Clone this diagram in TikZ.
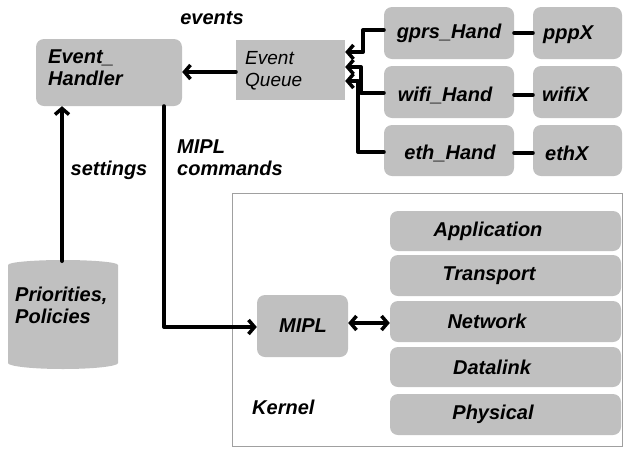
\documentclass[tikz,border=0pt]{standalone}
\usepackage{fontspec}
\setmainfont{Liberation Sans}
\usetikzlibrary{arrows.meta}

\definecolor{boxgray}{RGB}{192,192,192}
\definecolor{framegray}{RGB}{160,160,160}

\tikzset{
  lbl/.style={font=\fontsize{20}{22}\selectfont\bfseries\itshape, inner sep=0pt},
  rbox/.style={draw=none, fill=boxgray, rounded corners=8pt, inner sep=0pt},
  sbox/.style={draw=none, fill=boxgray, inner sep=0pt},
  wire/.style={line width=4pt, line cap=round, line join=round},
  barb/.tip={Straight Barb[length=6pt,width=14pt,line width=3.5pt]},
  arr/.style={wire, -barb},
  darr/.style={wire, barb-barb},
}

\begin{document}
\begin{tikzpicture}[x=1pt,y=-1pt]
  \useasboundingbox (0,0) rectangle (624,448);

  % kernel frame
  \draw[framegray, line width=1pt] (232,193) rectangle (622,446);
  \node[lbl, anchor=west] (kernel) at (252,407) {Kernel};

  % event handler and queue
  \node[rbox, minimum width=146pt, minimum height=67pt] (eh) at (109,72.5) {};
  \node[lbl, anchor=north west, align=left] at (48,50) {Event\_\\Handler};
  \node[sbox, minimum width=109pt, minimum height=60pt] (eq) at (290.5,70) {};
  \node[inner sep=0pt, anchor=north west, align=left,
        font=\fontsize{19}{22}\selectfont\itshape] at (245,51) {Event\\Queue};
  \node[lbl] (events) at (212,18) {events};

  % interface handlers
  \node[rbox, minimum width=130pt, minimum height=52pt] (gprs) at (449,33) {};
  \node[rbox, minimum width=130pt, minimum height=52pt] (wifi) at (449,92) {};
  \node[rbox, minimum width=130pt, minimum height=51pt] (eth)  at (449,150.5) {};
  \node[lbl] at (449,33) {gprs\_Hand};
  \node[lbl] at (445,95) {wifi\_Hand};
  \node[lbl] at (450,153) {eth\_Hand};
  \node[rbox, minimum width=89pt, minimum height=52pt] (ppp)   at (577.5,33) {};
  \node[lbl, anchor=west] at (543,35) {pppX};
  \node[rbox, minimum width=89pt, minimum height=52pt] (wifix) at (577.5,92) {};
  \node[lbl, anchor=west] at (542,94) {wifiX};
  \node[rbox, minimum width=89pt, minimum height=51pt] (ethx)  at (577.5,150.5) {};
  \node[lbl, anchor=west] at (545,153) {ethX};

  \draw[wire] (gprs.east |- 0,33) -- (ppp.west |- 0,33);
  \draw[wire] (wifi.east |- 0,95) -- (wifix.west |- 0,95);
  \draw[wire] (eth.east |- 0,153) -- (ethx.west |- 0,153);

  % handlers feed the queue
  \draw[arr] (gprs.west |- 0,30) -| (363,52) -- (eq.east |- 0,52);
  \draw[arr] (wifi.west |- 0,93) -| (361,67) -- (eq.east |- 0,67);
  \draw[arr] (eth.west |- 0,152) -| (358,81) -- (eq.east |- 0,81);

  % queue to handler
  \draw[arr] (eq.west |- 0,72) -- (eh.east |- 0,72);

  % policy store (cylinder)
  \fill[boxgray] (8,265) arc[start angle=180, end angle=360, x radius=55, y radius=5]
    -- (118,363) arc[start angle=0, end angle=180, x radius=55, y radius=6] -- cycle;
  \coordinate (poltop) at (62,261);
  \node[lbl, anchor=north west, align=left] (pol) at (15,287) {Priorities,\\Policies};
  \draw[arr] (poltop) -- (eh.south -| poltop);
  \node[lbl] (settings) at (109,170) {settings};

  % MIPL commands
  \node[rbox, minimum width=91pt, minimum height=62pt] (mipl) at (302.5,326) {};
  \node[lbl] at (303,326) {MIPL};
  \coordinate (bend) at (164,327);
  \draw[arr] (eh.south -| bend) -- (bend) -- (mipl.west |- bend);
  \node[lbl, anchor=north west, align=left] at (177,140) {MIPL\\commands};

  % protocol stack
  \node[rbox, minimum width=231pt, minimum height=40pt] (app) at (505.5,231) {};
  \node[rbox, minimum width=231pt, minimum height=41pt] (tra) at (505.5,275.5) {};
  \node[rbox, minimum width=231pt, minimum height=41pt] (net) at (505.5,321.5) {};
  \node[rbox, minimum width=231pt, minimum height=40pt] (dat) at (505.5,367) {};
  \node[rbox, minimum width=231pt, minimum height=41pt] (phy) at (505.5,414.5) {};
  \node[lbl] at (488,231) {Application};
  \node[lbl] at (489,275.5) {Transport};
  \node[lbl] at (487,321.5) {Network};
  \node[lbl] at (492,367) {Datalink};
  \node[lbl] at (493,414.5) {Physical};

  \draw[darr] (mipl.east |- 0,323) -- (net.west |- 0,323);
\end{tikzpicture}
\end{document}
